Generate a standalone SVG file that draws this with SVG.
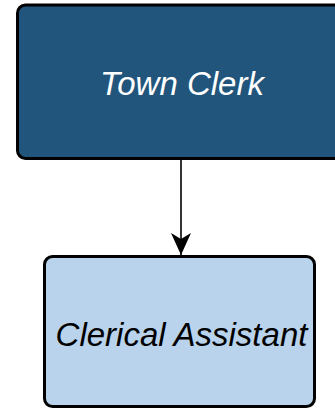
<svg xmlns="http://www.w3.org/2000/svg" width="335" height="408" viewBox="0 0 335 408">
  <style>
    .box { stroke: #000000; stroke-width: 3; }
    .lead { fill: #22557b; }
    .staff { fill: #b8d3eb; }
    .label { font-family: "Liberation Sans", Arial, sans-serif; font-style: italic; font-size: 33px; text-anchor: middle; }
    .edge { stroke: #000000; stroke-width: 1.6; fill: none; }
  </style>
  <defs>
    <marker id="arrow" viewBox="0 0 22 20" refX="22" refY="10" markerWidth="22" markerHeight="20" markerUnits="userSpaceOnUse" orient="auto">
      <path d="M0,0 L22,10 L0,20 L6,10 Z" fill="#000000"/>
    </marker>
  </defs>

  <g id="connectors">
    <line class="edge" x1="181" y1="160" x2="181" y2="255" marker-end="url(#arrow)"/>
  </g>

  <g id="town-clerk">
    <rect class="box lead" x="17.5" y="5" width="327" height="153.5" rx="8" ry="8"/>
    <text class="label" x="182" y="95" fill="#ffffff">Town Clerk</text>
  </g>

  <g id="clerical-assistant">
    <rect class="box staff" x="44.5" y="256.5" width="270" height="150" rx="8" ry="8"/>
    <text class="label" x="181.5" y="346" fill="#000000">Clerical Assistant</text>
  </g>
</svg>
